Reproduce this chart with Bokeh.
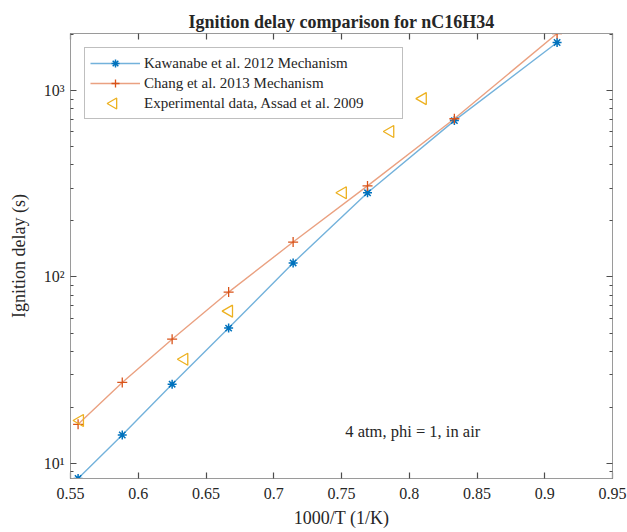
import numpy as np
from bokeh.plotting import figure
from bokeh.models import LinearAxis, LogAxis, FixedTicker, Label, Range1d, Legend, LegendItem
from bokeh.embed import file_html
from bokeh.resources import INLINE

# Data
x_model = [0.5556, 0.5882, 0.6250, 0.6667, 0.7143, 0.7692, 0.8333, 0.9091]
kawanabe = [8.3, 14.2, 26.6, 53.2, 119, 283, 690, 1811]
chang = [16.2, 27.2, 46.4, 83, 154, 308, 706, 2024]
x_exp = [0.557, 0.634, 0.667, 0.751, 0.786, 0.810]
exp_data = [17.0, 36.2, 65.6, 283, 603, 906]

x_ticks = [0.55, 0.6, 0.65, 0.7, 0.75, 0.8, 0.85, 0.9, 0.95]
x_tick_labels = ["0.55", "0.6", "0.65", "0.7", "0.75", "0.8", "0.85", "0.9", "0.95"]
y_ticks = [10, 100, 1000]
y_tick_labels = ["10\u00b9", "10\u00b2", "10\u00b3"]
y_minor = [8, 9, 20, 30, 40, 50, 60, 70, 80, 90, 200, 300, 400, 500, 600, 700, 800, 900, 2000]

FONT = "Liberation Serif"
BOX = "#9a9a9a"
TICK = "#4d4d4d"
TXT = "#262626"
BLUE = "#0072BD"
ORANGE = "#D95319"
YELLOW = "#EDB120"

XMIN, XMAX = 0.55, 0.95
ymin = min(kawanabe + chang + exp_data)
ymax = max(kawanabe + chang + exp_data)
FRAME_W, FRAME_H = 542, 445

p = figure(width=627, height=532, y_axis_type="log",
           x_range=Range1d(XMIN, XMAX), y_range=Range1d(ymin, ymax),
           output_backend="svg", toolbar_location=None,
           min_border_left=70, min_border_right=15, min_border_top=33, min_border_bottom=54,
           title="Ignition delay comparison for nC16H34")
p.title.text_font = FONT
p.title.text_font_size = "18px"
p.title.text_font_style = "bold"
p.title.text_color = TXT
p.title.align = "center"
p.title.offset = -15
p.title.standoff = 3
p.grid.visible = False
p.outline_line_color = BOX

xt = FixedTicker(ticks=x_ticks)
yt = FixedTicker(ticks=y_ticks, minor_ticks=y_minor)

bottom = p.xaxis[0]
left = p.yaxis[0]
bottom.ticker = xt
bottom.major_label_overrides = {t: l for t, l in zip(x_ticks, x_tick_labels)}
bottom.axis_label = "1000/T (1/K)"
left.ticker = yt
left.major_label_overrides = {t: l for t, l in zip(y_ticks, y_tick_labels)}
left.axis_label = "Ignition delay (s)"

top = LinearAxis(ticker=xt, major_label_text_font_size="1px", major_label_text_color=None,
                 major_label_standoff=0)
right = LogAxis(ticker=yt, major_label_text_font_size="1px", major_label_text_color=None,
                major_label_standoff=0)
p.add_layout(top, "above")
p.add_layout(right, "right")

for ax in [bottom, left, top, right]:
    ax.axis_line_color = BOX
    ax.major_tick_line_color = TICK
    ax.minor_tick_line_color = TICK
    ax.major_tick_line_width = 1.2
    ax.minor_tick_line_width = 1.1
    ax.major_tick_in = 6
    ax.major_tick_out = 0
    ax.minor_tick_in = 3
    ax.minor_tick_out = 0
for ax in [bottom, left]:
    ax.major_label_text_font = FONT
    ax.major_label_text_color = TXT
    ax.major_label_text_font_size = "16px"
    ax.axis_label_text_font = FONT
    ax.axis_label_text_font_style = "normal"
    ax.axis_label_text_color = TXT
    ax.axis_label_text_font_size = "18px"
bottom.major_label_standoff = 9
bottom.axis_label_standoff = 6
left.major_label_standoff = 6
left.axis_label_standoff = 12

l1 = p.line(x_model, kawanabe, line_color=BLUE, line_alpha=0.55, line_width=1.4)
s1 = p.scatter(x_model, kawanabe, marker="asterisk", size=9, line_color=BLUE, line_width=1.5)
l2 = p.line(x_model, chang, line_color=ORANGE, line_alpha=0.55, line_width=1.4)
s2 = p.scatter(x_model, chang, marker="cross", size=10, line_color=ORANGE, line_width=1.3)
s3 = p.scatter(x_exp, exp_data, marker="triangle", angle=np.pi / 2, size=12, fill_color=None,
               line_color=YELLOW, line_width=1.3)
# invisible stand-in for the legend row (Bokeh never rotates legend markers)
s3_legend = p.scatter([x_exp[0]], [exp_data[0]], marker="triangle", size=1, fill_alpha=0, line_alpha=0)

# left-pointing swatch for the legend row, placed from the frame geometry
sw_x = XMIN + 43 / FRAME_W * (XMAX - XMIN)
lmin, lmax = np.log10(ymin), np.log10(ymax)
sw_y = 10 ** (lmax - 70 / FRAME_H * (lmax - lmin))
p.scatter([sw_x], [sw_y], marker="triangle", angle=np.pi / 2, size=11, fill_color=None,
          line_color=YELLOW, line_width=1.3)

lg = Legend(items=[LegendItem(label="Kawanabe et al. 2012 Mechanism", renderers=[l1, s1]),
                   LegendItem(label="Chang et al. 2013 Mechanism", renderers=[l2, s2]),
                   LegendItem(label="Experimental data, Assad et al. 2009", renderers=[s3_legend])],
            location="top_left", margin=14,
            label_text_font=FONT, label_text_font_size="15px", label_text_color=TXT,
            border_line_color="#7f7f7f", glyph_width=50, glyph_height=20, label_height=20,
            label_width=253, spacing=0, padding=5, label_standoff=4, background_fill_alpha=0)
p.add_layout(lg)

p.add_layout(Label(x=0.8026, y=14.8, text="4 atm, phi = 1, in air", text_align="center",
                   text_baseline="middle", text_font=FONT, text_font_size="16.5px",
                   text_color=TXT))

open("out.html", "w").write(file_html(p, INLINE))
